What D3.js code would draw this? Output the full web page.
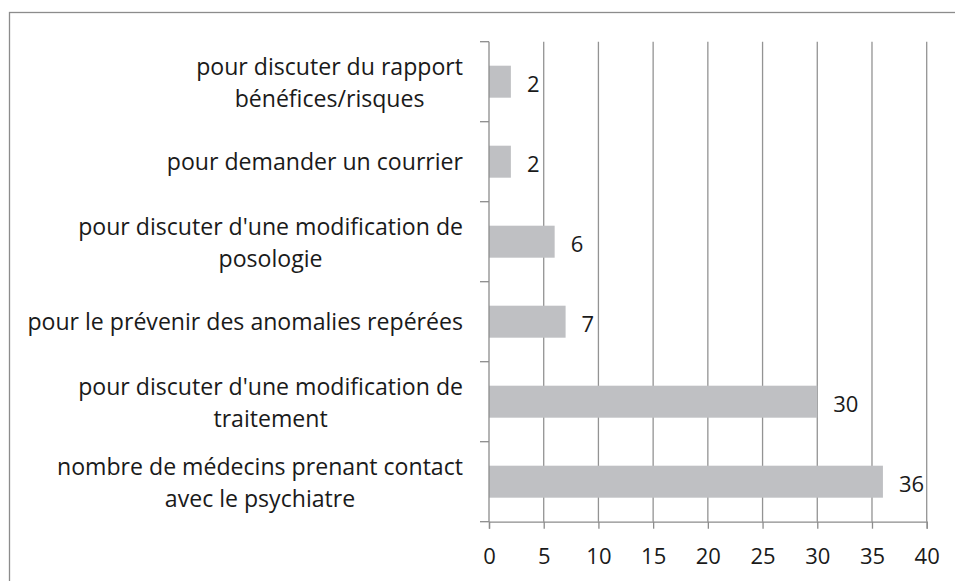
<!DOCTYPE html>
<html><head><meta charset="utf-8">
<script src="https://cdn.jsdelivr.net/npm/d3@7"></script>
<style>body{margin:0;background:#fff;} text{font-family:"Open Sans",sans-serif;fill:#1a1a1a;}</style>
</head><body>
<svg id="c" width="955" height="581"></svg>
<script>
const categories = [
  ["pour discuter du rapport", "bénéfices/risques"],
  ["pour demander un courrier"],
  ["pour discuter d'une modification de", "posologie"],
  ["pour le prévenir des anomalies repérées"],
  ["pour discuter d'une modification de", "traitement"],
  ["nombre de médecins prenant contact", "avec le psychiatre"]
];
const values = [2, 2, 6, 7, 30, 36];
const xTicks = [0, 5, 10, 15, 20, 25, 30, 35, 40];

const svg = d3.select("#c");
const mLeft = 489, mRight = 926.7, mTop = 41.7, mBottom = 521.7;
const fsLab = 23.1, fsNum = 22;

svg.append("rect").attr("x", 9.5).attr("y", 12.5).attr("width", 960).attr("height", 600)
  .attr("fill", "none").attr("stroke", "#8c8c8c").attr("stroke-width", 1.3);

const x = d3.scaleLinear().domain([0, 40]).range([mLeft, mRight]);
const idx = d3.range(categories.length);
const y = d3.scaleBand().domain(idx).range([mTop, mBottom]).paddingInner(0.6).paddingOuter(0.3);
const yb = d3.scaleBand().domain(idx).range([mTop, mBottom]);

// gridlines
svg.append("g").selectAll("line").data(xTicks.slice(1)).join("line")
  .attr("x1", d => x(d)).attr("x2", d => x(d)).attr("y1", mTop).attr("y2", mBottom)
  .attr("stroke", "#939393").attr("stroke-width", 1.3);

// bars
svg.append("g").selectAll("rect").data(values).join("rect")
  .attr("x", x(0)).attr("y", (d, i) => y(i)).attr("width", d => x(d) - x(0))
  .attr("height", y.bandwidth()).attr("fill", "#bfc0c3");

// value labels
svg.append("g").selectAll("text").data(values).join("text")
  .attr("x", d => x(d) + 16).attr("y", (d, i) => y(i) + y.bandwidth() / 2 + 2)
  .attr("dy", "0.36em").attr("font-size", fsNum).text(d => d);

// x axis
const gx = svg.append("g").attr("transform", `translate(0,${mBottom})`)
  .call(d3.axisBottom(x).tickValues(xTicks).tickSize(7).tickPadding(20));
gx.select(".domain").attr("stroke", "#8c8c8c").attr("stroke-width", 1.3);
gx.selectAll(".tick line").attr("stroke", "#8c8c8c").attr("stroke-width", 1.3);
gx.selectAll(".tick text").attr("font-size", fsNum).attr("font-family", '"Open Sans",sans-serif').attr("fill", "#1a1a1a");

// y axis (ticks at band boundaries)
const bounds = d3.range(categories.length + 1).map(i => mTop + i * yb.step());
svg.append("line").attr("x1", mLeft).attr("x2", mLeft).attr("y1", mTop).attr("y2", mBottom)
  .attr("stroke", "#8c8c8c").attr("stroke-width", 1.3);
svg.append("g").selectAll("line").data(bounds).join("line")
  .attr("x1", mLeft - 9).attr("x2", mLeft).attr("y1", d => d).attr("y2", d => d)
  .attr("stroke", "#8c8c8c").attr("stroke-width", 1.3);

// category labels
const lh = 32.5;
const labels = svg.append("g").selectAll("g").data(categories).join("g");
labels.each(function(lines, i) {
  const g = d3.select(this);
  const cy = yb(i) + yb.bandwidth() / 2 + (lines.length > 1 ? 1 : 0);
  const texts = g.selectAll("text").data(lines).join("text")
    .attr("font-size", fsLab).attr("text-anchor", "middle")
    .attr("y", (d, j) => cy + (j - (lines.length - 1) / 2) * lh).attr("dy", "0.36em").text(d => d);
  const w = d3.max(texts.nodes(), n => n.getComputedTextLength());
  texts.attr("x", 463 - w / 2);
});
</script>
</body></html>
